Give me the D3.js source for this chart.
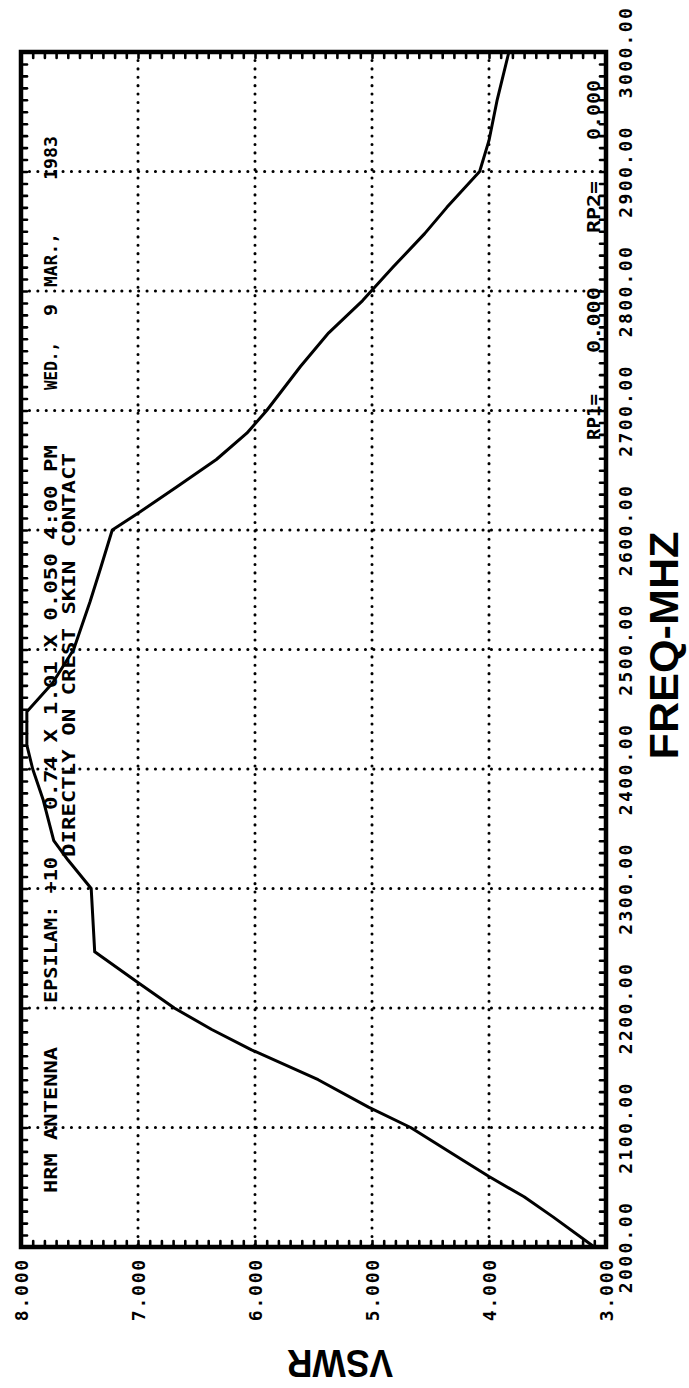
<!DOCTYPE html>
<html><head><meta charset="utf-8">
<script src="https://cdn.jsdelivr.net/npm/d3@7"></script>
<style>
html,body{margin:0;padding:0;background:#fff;}
svg{display:block;}
.mono{font-family:"DejaVu Sans Mono",monospace;font-weight:bold;fill:#000;}
</style></head>
<body>
<svg id="chart" width="689" height="1388"></svg>
<script>
// ---- data ----
const freqMHz = [2000, 2025, 2042, 2059, 2073, 2100, 2117, 2140, 2165, 2182, 2200, 2222, 2247, 2300, 2324, 2340, 2374, 2400, 2420, 2448, 2472, 2500, 2540, 2568, 2600, 2614, 2636, 2659, 2681, 2700, 2737, 2765, 2792, 2820, 2848, 2870, 2900, 2926, 2960, 3000];
const vswr    = [3.10, 3.45, 3.70, 4.00, 4.23, 4.67, 5.03, 5.46, 6.03, 6.37, 6.69, 7.01, 7.37, 7.40, 7.60, 7.72, 7.81, 7.90, 7.95, 7.95, 7.73, 7.55, 7.41, 7.32, 7.22, 7.00, 6.67, 6.33, 6.07, 5.90, 5.61, 5.37, 5.08, 4.82, 4.55, 4.36, 4.08, 4.00, 3.93, 3.83];
const vswrTicks = [8, 7, 6, 5, 4, 3];
const vswrTickLabels = ["8.000", "7.000", "6.000", "5.000", "4.000", "3.000"];
const freqTicks = [2000, 2100, 2200, 2300, 2400, 2500, 2600, 2700, 2800, 2900, 3000];
const freqTickLabels = ["2000.00", "2100.00", "2200.00", "2300.00", "2400.00", "2500.00", "2600.00", "2700.00", "2800.00", "2900.00", "3000.00"];
const headerLine1 = ["HRM ANTENNA", "EPSILAM: +10", "0.74 X 1.01 X 0.050 4:00 PM", "WED.,", "9", "MAR.,", "1983"];
const headerLine2 = ["DIRECTLY ON CREST SKIN CONTACT"];
const rpTexts = ["RP1=", "0.000", "RP2=", "0.000"];
const xTitle = "FREQ-MHZ";
const yTitle = "VSWR";

// ---- layout ----
const svg = d3.select("#chart");
const L = 21, R = 606, T = 52, B = 1247;
const x = d3.scaleLinear().domain([8, 3]).range([L, R]);      // VSWR (horizontal)
const y = d3.scaleLinear().domain([2000, 3000]).range([B, T]); // frequency (vertical)

// dotted grid
const g = svg.append("g");
g.selectAll("line.vg").data(vswrTicks.slice(1, -1)).enter().append("line")
  .attr("x1", d => x(d)).attr("x2", d => x(d)).attr("y1", T).attr("y2", B)
  .attr("stroke", "#000").attr("stroke-width", 3).attr("stroke-linecap", "round")
  .attr("stroke-dasharray", "0.1,8.3");
g.selectAll("line.hg").data(freqTicks.slice(1, -1)).enter().append("line")
  .attr("x1", L).attr("x2", R).attr("y1", d => y(d)).attr("y2", d => y(d))
  .attr("stroke", "#000").attr("stroke-width", 3).attr("stroke-linecap", "round")
  .attr("stroke-dasharray", "0.1,8.3");

// minor ticks on the frame (inward)
const minorV = d3.range(30, 81).map(d => d / 10);
const minorF = d3.range(200, 301).map(d => d * 10);
function styleAxis(sel) {
  sel.select(".domain").remove();
  sel.selectAll("line").attr("stroke", "#000").attr("stroke-width", 2.6).attr("stroke-linecap", "round");
  sel.selectAll("text").remove();
}
svg.append("g").attr("transform", `translate(0,${B})`)
  .call(d3.axisTop(x).tickValues(minorV).tickSize(6).tickFormat("")).call(styleAxis);
svg.append("g").attr("transform", `translate(0,${T})`)
  .call(d3.axisBottom(x).tickValues(minorV).tickSize(6).tickFormat("")).call(styleAxis);
svg.append("g").attr("transform", `translate(${L},0)`)
  .call(d3.axisRight(y).tickValues(minorF).tickSize(6).tickFormat("")).call(styleAxis);
svg.append("g").attr("transform", `translate(${R},0)`)
  .call(d3.axisLeft(y).tickValues(minorF).tickSize(6).tickFormat("")).call(styleAxis);

// frame
svg.append("rect").attr("x", L).attr("y", T).attr("width", R - L).attr("height", B - T)
  .attr("fill", "none").attr("stroke", "#000").attr("stroke-width", 4.5);

// curve
const pts = freqMHz.map((f, i) => [f, vswr[i]]);
svg.append("path").datum(pts)
  .attr("d", d3.line().x(d => x(d[1])).y(d => y(d[0])))
  .attr("fill", "none").attr("stroke", "#000").attr("stroke-width", 3)
  .attr("stroke-linejoin", "round");

// tick labels: VSWR (below the frame, rotated)
svg.selectAll("text.vl").data(vswrTicks).enter().append("text")
  .attr("class", "mono")
  .attr("transform", d => `translate(${x(d) + 7},${B + 11}) rotate(-90)`)
  .attr("text-anchor", "end").style("font-size", "18px").style("letter-spacing", "1.8px")
  .text((d, i) => vswrTickLabels[i]);

// tick labels: frequency (right of the frame, rotated)
svg.selectAll("text.fl").data(freqTicks).enter().append("text")
  .attr("class", "mono")
  .attr("transform", d => `translate(${R + 26},${y(d)}) rotate(-90)`)
  .attr("text-anchor", "middle").style("font-size", "18px").style("letter-spacing", "2.4px")
  .text((d, i) => freqTickLabels[i]);

// header annotation (rotated text inside plot)
const line1Pos = [[1193, 146], [1003, 146], [810, 365], [390, 48], [316, 12], [287, 54], [180, 44]];
headerLine1.forEach((t, i) => {
  svg.append("text").attr("class", "mono")
    .attr("transform", `translate(57,${line1Pos[i][0]}) rotate(-90)`)
    .attr("textLength", line1Pos[i][1]).attr("lengthAdjust", "spacingAndGlyphs")
    .style("font-size", "18px").text(t);
});
svg.append("text").attr("class", "mono")
  .attr("transform", `translate(75,857) rotate(-90)`)
  .attr("textLength", 404).attr("lengthAdjust", "spacingAndGlyphs")
  .style("font-size", "18px").text(headerLine2[0]);

// RP texts
const rpPos = [[440, 46], [353, 66], [233, 52], [140, 60]];
rpTexts.forEach((t, i) => {
  svg.append("text").attr("class", "mono")
    .attr("transform", `translate(600,${rpPos[i][0]}) rotate(-90)`)
    .attr("textLength", rpPos[i][1]).attr("lengthAdjust", "spacingAndGlyphs")
    .style("font-size", "18px").text(t);
});

// axis titles
svg.append("text")
  .attr("transform", `translate(678,${(T + B) / 2 - 4}) rotate(-90)`)
  .attr("text-anchor", "middle")
  .style("font-family", "'Liberation Sans', Arial, sans-serif").style("font-weight", "bold")
  .style("font-size", "40px").attr("textLength", 228).attr("lengthAdjust", "spacingAndGlyphs")
  .attr("fill", "#000")
  .text(xTitle);
svg.append("text")
  .attr("transform", `translate(340,1350) rotate(180)`)
  .attr("text-anchor", "middle")
  .style("font-family", "'Liberation Sans', Arial, sans-serif").style("font-weight", "bold")
  .style("font-size", "38px").attr("textLength", 106).attr("lengthAdjust", "spacingAndGlyphs")
  .attr("fill", "#000")
  .text(yTitle);
</script>
</body></html>
